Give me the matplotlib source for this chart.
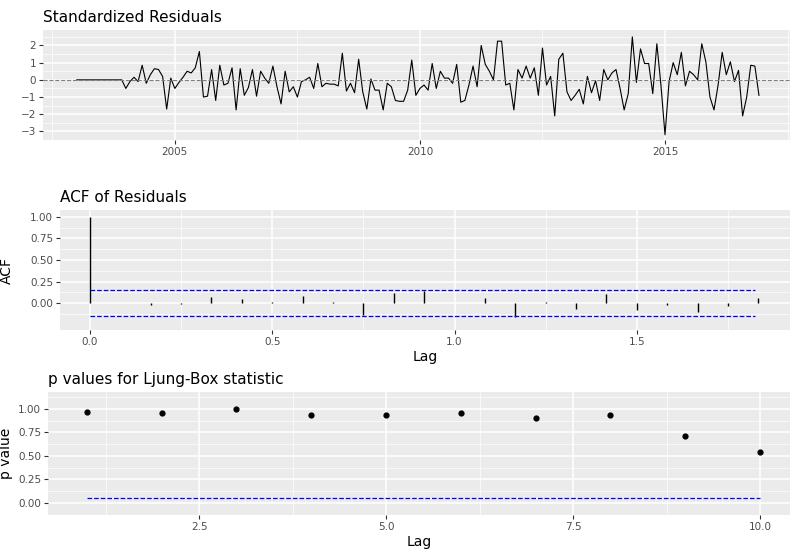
import matplotlib.pyplot as plt
import numpy as np

# --- Data ---
resid = [0]*11 + [
    0.0, -0.5, -0.1, 0.15, -0.1, 0.85, -0.2, 0.3, 0.65, 0.6, 0.2, -1.7, 0.1, -0.5, -0.15, 0.15,
    0.5, 0.4, 0.7, 1.65, -1.0, -0.95, 0.6, -1.2, 0.85, -0.3, -0.2, 0.7, -1.75, 0.65, -0.9, -0.45,
    0.6, -0.95, 0.5, 0.1, -0.2, 0.8, -0.4, -1.4, 0.5, -0.7, -0.4, -1.0, -0.1, 0.0, 0.15, -0.5,
    0.95, -0.4, -0.2, -0.25, -0.25, -0.35, 1.55, -0.65, -0.2, -0.75, 1.2, -0.7, -1.7, 0.05, -0.6, -0.6,
    -1.75, -0.2, -0.4, -1.2, -1.25, -1.25, -0.6, 1.15, -0.9, -0.5, -0.3, -0.6, 0.95, -0.5, 0.5, 0.1,
    0.1, -0.2, 0.9, -1.3, -1.2, -0.3, 0.8, -0.4, 2.0, 0.9, 0.5, 0.0, 2.25, 2.25, -0.3, -0.2,
    -1.75, 0.6, 0.1, 0.8, 0.1, 0.7, -0.9, 1.85, -0.3, 0.2, -2.1, 1.2, 1.55, -0.7, -1.2, -0.9,
    -0.55, -1.4, 0.2, -0.75, -0.05, -1.2, 0.6, 0.0, 0.4, 0.6, -0.5, -1.75, -0.8, 2.5, -0.15, 1.8,
    0.95, 0.95, -0.8, 2.1, -0.3, -3.2, -0.1, 1.0, 0.3, 1.6, -0.35, 0.5, 0.3, 0.0, 2.1, 1.05,
    -1.0, -1.75, -0.3, 1.6, 0.3, 1.05, -0.1, 0.55, -2.1, -1.0, 0.85, 0.8, -0.9]
years = 2003 + np.arange(len(resid)) / 12

acf_vals = [1.0, 0.0, -0.02, -0.005, 0.07, 0.05, 0.02, 0.08, 0.01, -0.14, 0.12, 0.14,
            0.0, 0.06, -0.155, 0.01, -0.07, 0.11, -0.08, -0.02, -0.10, -0.03, 0.06]
acf_lags = np.arange(len(acf_vals)) / 12
acf_bound = 0.151

lb_lags = np.arange(1, 11)
lb_pvals = [0.97, 0.96, 1.0, 0.93, 0.93, 0.96, 0.90, 0.94, 0.71, 0.54]

W, H = 800, 553
fig = plt.figure(figsize=(W / 100, H / 100), dpi=100)


def gg_axes(x0, y0, x1, y1):
    ax = fig.add_axes([x0 / W, 1 - y1 / H, (x1 - x0) / W, (y1 - y0) / H])
    ax.set_facecolor('#EBEBEB')
    for s in ax.spines.values():
        s.set_visible(False)
    ax.grid(True, which='major', color='white', lw=1.1)
    ax.grid(True, which='minor', color='white', lw=0.5)
    ax.set_axisbelow(True)
    ax.tick_params(which='major', colors='#333333', labelcolor='#4D4D4D', labelsize=7.5,
                   length=3, pad=2)
    ax.tick_params(which='minor', length=0)
    return ax


def title(ax, text):
    ax.set_title(text, loc='left', fontsize=11, pad=6)


# Standardized residuals
ax1 = gg_axes(43, 30, 790, 140)
ax1.plot(years, resid, color='black', lw=0.8)
ax1.axhline(0, color='#7F7F7F', ls='--', lw=0.8)
ax1.set_xlim(2002.31, 2017.55)
ax1.set_ylim(-3.47, 2.9)
ax1.set_xticks([2005, 2010, 2015])
ax1.set_xticks([2002.5, 2007.5, 2012.5, 2017.5], minor=True)
ax1.set_yticks([-3, -2, -1, 0, 1, 2])
ax1.set_yticks(np.arange(-3.5, 3, 1), minor=True)
title(ax1, 'Standardized Residuals')

# ACF
ax2 = gg_axes(60, 210, 790, 330)
ax2.vlines(acf_lags, 0, acf_vals, color='black', lw=1)
ax2.hlines([acf_bound, -acf_bound], 0, 21.9 / 12, color='blue', ls='--', lw=0.9)
ax2.set_xlim(-0.082, 1.92)
ax2.set_ylim(-0.31, 1.08)
ax2.set_xticks([0, 0.5, 1.0, 1.5])
ax2.set_xticklabels(['0.0', '0.5', '1.0', '1.5'])
ax2.set_xticks([0.25, 0.75, 1.25, 1.75], minor=True)
ax2.set_yticks([0, 0.25, 0.5, 0.75, 1.0])
ax2.set_yticklabels(['0.00', '0.25', '0.50', '0.75', '1.00'])
ax2.set_yticks([-0.125, 0.125, 0.375, 0.625, 0.875], minor=True)
ax2.set_xlabel('Lag', fontsize=10, labelpad=2)
ax2.set_ylabel('ACF', fontsize=10)
ax2.yaxis.set_label_coords(-0.063, 0.5)
title(ax2, 'ACF of Residuals')

# Ljung-Box
ax3 = gg_axes(48, 392, 790, 515)
ax3.scatter(lb_lags, lb_pvals, color='black', s=12, zorder=3)
ax3.hlines(0.05, 1, 10, color='blue', ls='--', lw=0.9)
ax3.set_xlim(0.48, 10.4)
ax3.set_ylim(-0.13, 1.18)
ax3.set_xticks([2.5, 5.0, 7.5, 10.0])
ax3.set_xticks([1.25, 3.75, 6.25, 8.75], minor=True)
ax3.set_yticks([0, 0.25, 0.5, 0.75, 1.0])
ax3.set_yticklabels(['0.00', '0.25', '0.50', '0.75', '1.00'])
ax3.set_yticks([-0.125, 0.125, 0.375, 0.625, 0.875, 1.125], minor=True)
ax3.set_xlabel('Lag', fontsize=10, labelpad=2)
ax3.set_ylabel('p value', fontsize=10)
ax3.yaxis.set_label_coords(-0.047, 0.5)
title(ax3, 'p values for Ljung-Box statistic')

fig.savefig('out.png', dpi=100)
